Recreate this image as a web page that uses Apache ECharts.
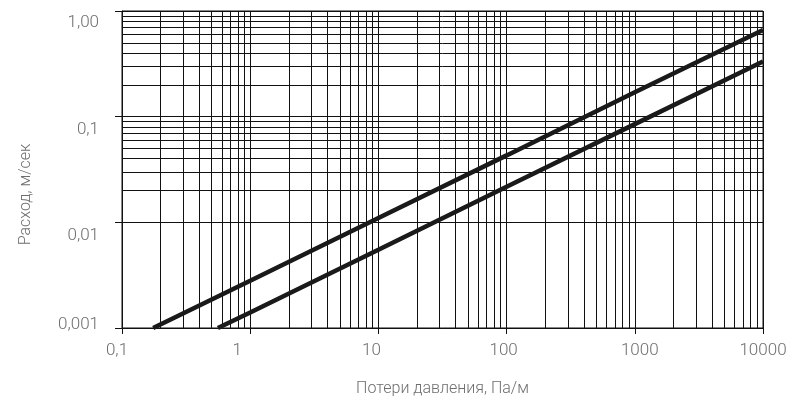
<!DOCTYPE html>
<html>
<head>
<meta charset="utf-8">
<script src="https://cdn.jsdelivr.net/npm/echarts@6/dist/echarts.min.js"></script>
<style>html,body{margin:0;padding:0;background:#fff;}#c{width:791px;height:402px;}</style>
</head>
<body>
<div id="c"></div>
<script>
// Data
var xName = 'Потери давления, Па/м';
var yName = 'Расход, м/сек';
var xTickLabels = ['0,1', '1', '10', '100', '1000', '10000'];   // 10^-1 .. 10^4
var yTickLabels = ['0,001', '0,01', '0,1', '1,00'];             // 10^-3 .. 10^0
var xTickShift = [-5, -13, -7, -3, 5, 0];
var yTickShift = [-3, 13, 13, 12];
var line1X = [0.175, 1, 10, 100, 1000, 10000];
var line1Y = [0.001, 0.0028, 0.011, 0.043, 0.17, 0.66];
var line2X = [0.56, 1, 10, 100, 1000, 10000];
var line2Y = [0.001, 0.0014, 0.0055, 0.0217, 0.085, 0.333];
var xMinorGrid = [];
[0.1, 1, 10, 100, 1000].forEach(function (d) { for (var k = 2; k <= 9; k++) xMinorGrid.push(+(d * k).toPrecision(3)); });
var yMinorGrid = [];
[0.001, 0.01, 0.1].forEach(function (d) { for (var k = 2; k <= 9; k++) yMinorGrid.push(+(d * k).toPrecision(3)); });

function pair(xs, ys) { return xs.map(function (x, i) { return [x, ys[i]]; }); }

var labelColor = '#6e6e6e';
var font = 'Roboto, "Noto Sans", sans-serif';

var xRich = {}, yRich = {};
xTickShift.forEach(function (s, i) {
  xRich['x' + i] = { color: labelColor, fontFamily: font, fontSize: 17, fontWeight: 300,
    padding: s < 0 ? [0, -2 * s, 0, 0] : [0, 0, 0, 2 * s] };
});
yTickShift.forEach(function (s, i) {
  yRich['y' + i] = { color: labelColor, fontFamily: font, fontSize: 17, fontWeight: 300,
    padding: s > 0 ? [2 * s, 0, 0, 0] : [0, 0, -2 * s, 0] };
});

var chart = echarts.init(document.getElementById('c'), null, { renderer: 'canvas' });
var gridLine = { color: '#111', width: 1, type: 'solid' };
var markData = xMinorGrid.map(function (v) { return { xAxis: v }; })
  .concat(yMinorGrid.map(function (v) { return { yAxis: v }; }));

chart.setOption({
  animation: false,
  backgroundColor: '#fff',
  grid: { left: 122, right: 28, top: 11, bottom: 70, show: true, borderColor: '#111', borderWidth: 1 },
  xAxis: {
    type: 'log', logBase: 10, min: 0.1, max: 10000,
    name: xName, nameLocation: 'middle', nameGap: 53,
    nameTextStyle: { color: labelColor, fontFamily: font, fontSize: 16, fontWeight: 300 },
    axisLine: { show: true, lineStyle: { color: '#111', width: 1 } },
    axisTick: { show: true, inside: false, length: 6, lineStyle: { color: '#111' } },
    splitLine: { show: true, lineStyle: gridLine },
    minorTick: { show: false }, minorSplitLine: { show: false },
    axisLabel: {
      margin: 14,
      formatter: function (v) {
        var i = Math.round(Math.log10(v)) + 1;
        return '{x' + i + '|' + xTickLabels[i] + '}';
      },
      rich: xRich
    }
  },
  yAxis: {
    type: 'log', logBase: 10, min: 0.001, max: 1,
    name: yName, nameLocation: 'middle', nameGap: 88, nameRotate: 90,
    nameTextStyle: { color: labelColor, fontFamily: font, fontSize: 16, fontWeight: 300, padding: [0, 50, 0, 0] },
    axisLine: { show: true, lineStyle: { color: '#111', width: 1 } },
    axisTick: { show: true, inside: false, length: 7, lineStyle: { color: '#111' } },
    splitLine: { show: true, lineStyle: gridLine },
    minorTick: { show: false }, minorSplitLine: { show: false },
    axisLabel: {
      margin: 23,
      formatter: function (v) {
        var i = Math.round(Math.log10(v)) + 3;
        return '{y' + i + '|' + yTickLabels[i] + '}';
      },
      rich: yRich
    }
  },
  series: [
    {
      type: 'line', data: [], silent: true,
      markLine: { silent: true, symbol: ['none', 'none'], label: { show: false },
        lineStyle: gridLine, animation: false, data: markData }
    },
    {
      type: 'line', data: pair(line1X, line1Y), showSymbol: false, symbol: 'none',
      lineStyle: { color: '#1a1a1a', width: 4.5 }, z: 5
    },
    {
      type: 'line', data: pair(line2X, line2Y), showSymbol: false, symbol: 'none',
      lineStyle: { color: '#1a1a1a', width: 4.5 }, z: 5
    }
  ]
});
</script>
</body>
</html>
